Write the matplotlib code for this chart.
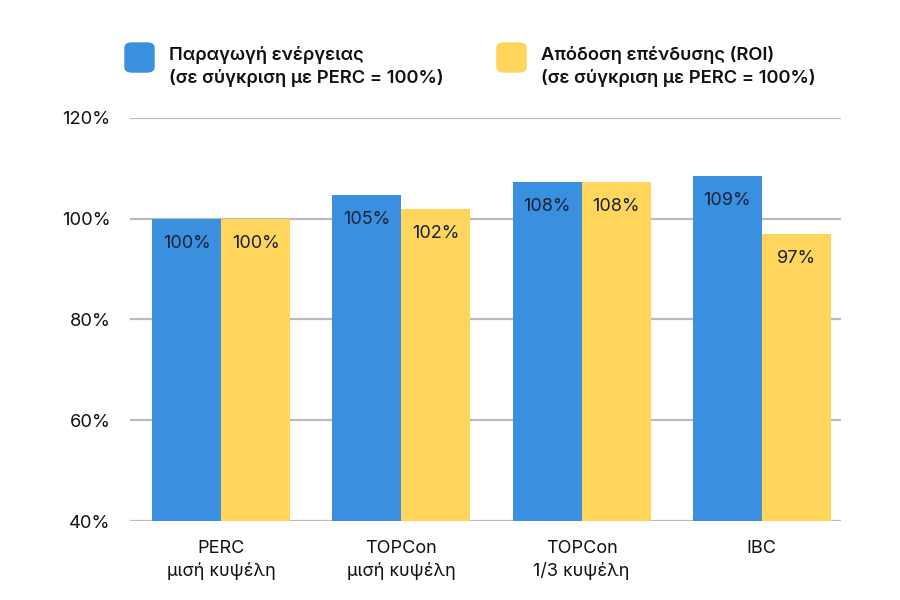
import numpy as np
import matplotlib.pyplot as plt
from matplotlib.patches import FancyBboxPatch

plt.rcParams['font.family'] = ['Inter', 'DejaVu Sans']

categories = ['PERC\nμισή κυψέλη', 'TOPCon\nμισή κυψέλη', 'TOPCon\n1/3 κυψέλη', 'IBC']
energy = [100, 104.7, 107.3, 108.5]
roi = [100, 101.9, 107.3, 96.9]
energy_labels = ['100%', '105%', '108%', '109%']
roi_labels = ['100%', '102%', '108%', '97%']
yticks = [40, 60, 80, 100, 120]

blue = '#3A8FDE'
yellow = '#FFD55C'
text_col = '#16213a'

fig = plt.figure(figsize=(9, 6), dpi=100)
ax = fig.add_axes([130/900, 1 - 521/600, 711/900, 403/600])

x = np.arange(len(categories))
w = 0.383
b1 = ax.bar(x - w/2, energy, w, bottom=0, color=blue, zorder=3)
b2 = ax.bar(x + w/2, roi, w, bottom=0, color=yellow, zorder=3)

for bars, labs in ((b1, energy_labels), (b2, roi_labels)):
    for r, lab in zip(bars, labs):
        ax.annotate(lab, (r.get_x() + r.get_width()/2, r.get_height()),
                    xytext=(0, -17.5), textcoords='offset points',
                    ha='center', va='center', fontsize=13, color=text_col, zorder=4)

ax.set_ylim(40, 120)
ax.set_xlim(-0.506, 3.44)
ax.set_yticks(yticks)
ax.set_yticklabels([f'{v}%' for v in yticks], fontsize=13.2, color='#111111')
ax.set_xticks(x)
ax.set_xticklabels(categories, fontsize=13, color='#111111', linespacing=1.35)
ax.tick_params(axis='both', length=0)
ax.tick_params(axis='y', pad=14)
ax.tick_params(axis='x', pad=14)
ax.grid(axis='y', color='#bbbbbb', linewidth=1.6, zorder=0)
for s in ax.spines.values():
    s.set_visible(False)

# legend drawn by hand
for px, col, lines in ((125, blue, ['Παραγωγή ενέργειας', '(σε σύγκριση με PERC = 100%)']),
                       (497, yellow, ['Απόδοση επένδυσης (ROI)', '(σε σύγκριση με PERC = 100%)'])):
    fig.patches.append(FancyBboxPatch((px/900, 1 - 72/600), 29/900, 29/600,
                                      boxstyle='round,pad=0,rounding_size=0.008',
                                      transform=fig.transFigure, color=col))
    fig.text((px + 44)/900, 1 - 55/600, lines[0], fontsize=13.2, fontweight='semibold',
             color='#111111', va='center')
    fig.text((px + 44)/900, 1 - 78/600, lines[1], fontsize=13.2, fontweight='semibold',
             color='#111111', va='center')

fig.savefig('out.png', dpi=100)
